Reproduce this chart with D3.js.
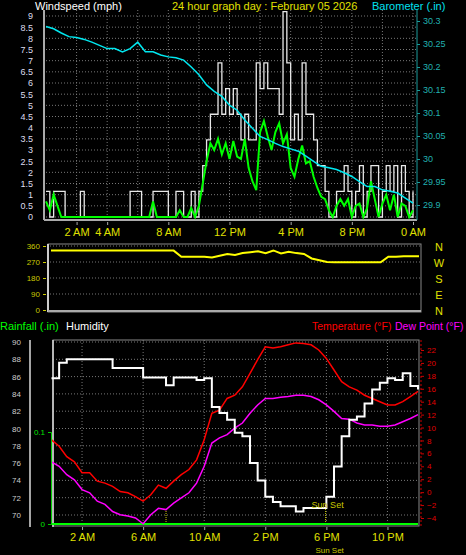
<!DOCTYPE html>
<html><head><meta charset="utf-8">
<script src="https://cdn.jsdelivr.net/npm/d3@7"></script>
<style>body{margin:0;background:#000}svg{display:block;font-family:"Liberation Sans",Arial,sans-serif}</style>
</head><body><svg width="466" height="555"></svg>
<script>
// 15 minute wind samples (mph)
var windGust = [1.15,0,1.15,1.15,1.15,0,0,0,0,1.15,0,0,0,0,0,0,0,0,0,0,0,0,1.15,1.15,1.15,0,0,0,1.15,1.15,1.15,1.15,0,0,1.15,1.15,0,0,1.15,0,1.15,2.3,3.45,4.6,4.6,6.9,4.6,5.75,4.6,5.75,4.6,3.45,4.6,3.45,3.45,6.9,5.75,6.9,5.75,5.75,5.75,4.6,9.2,6.9,3.45,4.6,3.45,6.9,4.6,4.6,3.45,2.3,2.3,1.15,0,0,1.15,1.15,2.3,1.15,0,1.15,2.3,0,1.15,2.3,2.3,0,1.15,2.3,1.15,2.3,0,2.3,1.15,0,1.15];
var windAvg = [0.7,0.3,1.0,0.5,0,0,0,0,0,0,0,0,0,0,0,0,0,0,0,0,0,0,0,0,0,0,0,0,0.7,0,0,0,0,0,0,0.3,0,0,0.4,0,0.5,1.5,2.5,3.3,3.0,3.5,2.8,3.3,2.6,3.4,2.7,2.6,3.5,2.2,1.6,1.2,3.8,4.3,3.6,3.0,3.8,4.2,3.3,3.7,2.2,1.8,2.6,3.2,2.4,2.5,1.8,1.3,0.9,0.8,0.3,0,0.5,0.8,0.5,0.8,0,0.5,0.6,0,0.4,1.6,0.8,0,0.6,1.0,0.3,1.0,0,0.6,0.5,0,0.3];
// 30 minute samples
var barometer = [30.288,30.283,30.274,30.266,30.264,30.26,30.254,30.247,30.24,30.24,30.233,30.24,30.254,30.233,30.233,30.226,30.222,30.22,30.215,30.2,30.183,30.161,30.147,30.136,30.117,30.106,30.085,30.067,30.049,30.042,30.034,30.027,30.022,30.017,30.006,29.995,29.984,29.981,29.977,29.970,29.962,29.951,29.94,29.94,29.933,29.93,29.926,29.915,29.904];
var windDir = [334,334,334,334,334,334,334,334,334,334,334,334,334,334,334,334,334,300,300,300,300,295,305,315,310,320,325,330,320,335,318,328,320,315,290,280,270,268,268,268,268,268,268,268,300,300,302,303,303];
var humidity = [85.8,87.6,88,88,88,88,88,88,87,87,87,87,85.9,85.9,85.9,85,85.9,85.9,85.9,85.6,85.8,82.5,81.8,81,79.5,79.1,76,74,72.1,71.5,71,71,70.4,70.8,70.8,70.8,72.1,75.6,79.1,81,81.4,82.9,84.5,85.3,85.8,85.6,86.4,84.9,84.5];
var temperature = [8.1,7.1,5.5,4.7,3.0,3.0,1.7,1.4,0.9,0.1,-0.1,-0.7,-1.4,-0.4,1.1,0.6,1.7,2.7,3.5,5,8.1,12.2,12.7,14.5,15,16.3,18.4,20.5,22.5,22.3,22.5,22.8,23.1,23,22.8,22,20.7,18.9,17.1,16.3,15.8,15,14.5,14,13.5,13.5,14,14.8,15.6];
var dewPoint = [4.7,4,2.7,1.9,0.4,-0.1,-1.4,-1.9,-3,-3.5,-3.7,-4,-4.9,-3.5,-2.5,-2.7,-1.7,-0.9,-0.1,1.4,4,7.6,8.4,8.9,9.9,10.7,12.2,13.5,14.5,14.5,14.7,14.8,15,15,14.8,14.3,13.5,12.5,11.4,11.3,10.7,10.4,10.4,10.2,10.2,10.4,10.9,11.4,12];
var rainfall = [0,0,0,0,0,0,0,0,0,0,0,0,0,0,0,0,0,0,0,0,0,0,0,0,0,0,0,0,0,0,0,0,0,0,0,0,0,0,0,0,0,0,0,0,0,0,0,0,0];
var topHours = [2,4,8,12,16,20,24], topHourLabels = ["2 AM","4 AM","8 AM","12 PM","4 PM","8 PM","0 AM"];
var botHours = [2,6,10,14,18,22], botHourLabels = ["2 AM","6 AM","10 AM","2 PM","6 PM","10 PM"];
var compass = ["N","W","S","E","N"];
var sunRise = 7.5, sunSet = 17.95;

var svg = d3.select("svg");
function hrs(arr){ return arr.map(function(v,i){ return [i*24/(arr.length-1), v]; }); }
function grid(g, x, y, xt, yt, x0, x1, y0, y1){
  g.selectAll(".h").data(yt).enter().append("line").attr("x1",x0).attr("x2",x1)
   .attr("y1",function(d){return y(d);}).attr("y2",function(d){return y(d);})
   .attr("stroke","#777").attr("stroke-dasharray","1,2");
  g.selectAll(".v").data(xt).enter().append("line").attr("y1",y0).attr("y2",y1)
   .attr("x1",function(d){return x(d);}).attr("x2",function(d){return x(d);})
   .attr("stroke","#777").attr("stroke-dasharray","1,2");
}
function txt(x,y,s,c,size,anchor){
  return svg.append("text").attr("x",x).attr("y",y).text(s).attr("fill",c)
    .attr("font-size",size||11).attr("text-anchor",anchor||"start");
}

// ---- top panel: wind + barometer
var x1 = d3.scaleLinear().domain([0,24]).range([46,413]);
var yw = d3.scaleLinear().domain([0,9]).range([217,16]);
var yb = d3.scaleLinear().domain([29.9,30.3]).range([205,21]);
var topG = svg.append("g");
grid(topG, x1, yw, d3.range(2,25,2), d3.range(0,9.1,0.5), 46, 416, 10, 218);
topG.append("line").attr("x1",44).attr("x2",44).attr("y1",10).attr("y2",220).attr("stroke","#aaa").attr("stroke-width",2);
topG.append("line").attr("x1",44).attr("x2",417).attr("y1",220).attr("y2",220).attr("stroke","#aaa").attr("stroke-width",2);
topG.append("line").attr("x1",417).attr("x2",417).attr("y1",10).attr("y2",220).attr("stroke","#1a9a9a");
var gustLine = d3.line().x(function(d){return x1(d[0]);}).y(function(d){return yw(d[1]);}).curve(d3.curveStepAfter);
topG.append("path").datum(hrs(windGust)).attr("d",gustLine).attr("fill","none").attr("stroke","#e8e8e8").attr("stroke-width",1.3);
topG.append("path").datum(hrs(windAvg)).attr("d",d3.line().x(function(d){return x1(d[0]);}).y(function(d){return yw(d[1]);}))
  .attr("fill","none").attr("stroke","#00ff00").attr("stroke-width",2);
topG.append("path").datum(hrs(barometer)).attr("d",d3.line().x(function(d){return x1(d[0]);}).y(function(d){return yb(d[1]);}))
  .attr("fill","none").attr("stroke","#00e8f0").attr("stroke-width",1.5);
var la = topG.append("g").attr("transform","translate(36,0)").call(d3.axisLeft(yw).tickValues(d3.range(0,9.1,0.5)).tickFormat(d3.format("~g")).tickSize(0));
la.select(".domain").remove();
la.selectAll("text").attr("fill","#dde").attr("font-size",9).attr("font-family","Liberation Sans");
var ra = topG.append("g").attr("transform","translate(417,0)").call(d3.axisRight(yb).tickValues(d3.range(29.9,30.301,0.05)).tickFormat(d3.format("~g")).tickSize(3));
ra.select(".domain").remove();
ra.selectAll("line").attr("stroke","#1a9a9a");
ra.selectAll("text").attr("fill","#20b0b0").attr("font-size",9).attr("font-family","Liberation Sans");
var xa = topG.append("g").attr("transform","translate(0,222)").call(d3.axisBottom(x1).tickValues(topHours).tickFormat(function(d,i){return topHourLabels[i];}).tickSize(3));
xa.select(".domain").remove();
xa.selectAll("line").attr("stroke","#aaa");
xa.selectAll("text").attr("fill","#e0e000").attr("font-size",11).attr("font-family","Liberation Sans");
txt(35,10,"Windspeed (mph)","#fff",11);
txt(172,10,"24 hour graph day : February 05 2026","#e0e000",11);
txt(372,10,"Barometer (.in)","#00e0f0",11);

// ---- middle panel: wind direction
var x2 = d3.scaleLinear().domain([0,24]).range([51,419]);
var yd = d3.scaleLinear().domain([0,360]).range([310,246]);
var midG = svg.append("g");
grid(midG, x2, yd, [], [90,180,270,360], 50, 420, 0, 0);
midG.append("rect").attr("x",48).attr("y",244).attr("width",373).attr("height",68).attr("fill","none").attr("stroke","#888");
midG.append("line").attr("x1",48).attr("x2",48).attr("y1",244).attr("y2",312).attr("stroke","#ccc").attr("stroke-width",2);
midG.append("line").attr("x1",48).attr("x2",421).attr("y1",311).attr("y2",311).attr("stroke","#aaa").attr("stroke-width",2);
midG.append("path").datum(hrs(windDir)).attr("d",d3.line().x(function(d){return x2(d[0]);}).y(function(d){return yd(d[1]);}))
  .attr("fill","none").attr("stroke","#ffff00").attr("stroke-width",2);
var da = midG.append("g").attr("transform","translate(46,0)").call(d3.axisLeft(yd).tickValues([0,90,180,270,360]).tickSize(3));
da.select(".domain").remove();
da.selectAll("line").attr("stroke","#cc0");
da.selectAll("text").attr("fill","#c8c800").attr("font-size",8).attr("font-family","Liberation Sans");
midG.selectAll(".cmp").data(compass).enter().append("text").attr("x",439).attr("text-anchor","middle")
  .attr("y",function(d,i){return yd(360-i*90)+5;}).text(function(d){return d;}).attr("fill","#e0e000").attr("font-size",11);

// ---- bottom panel: humidity, temperature, dew point, rainfall
var x3 = d3.scaleLinear().domain([0,24]).range([51.5,418]);
var yh = d3.scaleLinear().domain([70,90]).range([515,342]);
var yt = d3.scaleLinear().domain([-4,22]).range([518,350]);
var yr = d3.scaleLinear().domain([0,0.1]).range([524,432]);
var botG = svg.append("g");
grid(botG, x3, yh, botHours, d3.range(70,90.1,2), 53, 419, 340, 526);
botG.append("rect").attr("x",53).attr("y",340).attr("width",366).attr("height",186).attr("fill","none").attr("stroke","#888");
botG.append("line").attr("x1",53).attr("x2",53).attr("y1",340).attr("y2",527).attr("stroke","#ddd").attr("stroke-width",1.5);
botG.append("line").attr("x1",30).attr("x2",30).attr("y1",340).attr("y2",527).attr("stroke","#ddd").attr("stroke-width",1.5);
botG.append("line").attr("x1",421).attr("x2",421).attr("y1",340).attr("y2",527).attr("stroke","#c00").attr("stroke-dasharray","2,2");
[sunRise, sunSet].forEach(function(h,i){
  botG.append("line").attr("x1",x3(h)).attr("x2",x3(h)).attr("y1",524).attr("y2",i?505:510)
    .attr("stroke","#cc0").attr("stroke-dasharray","1,1");
});
function ln(sc){ return d3.line().x(function(d){return x3(d[0]);}).y(function(d){return sc(d[1]);}); }
botG.append("path").datum(hrs(rainfall)).attr("d",ln(yr)).attr("fill","none").attr("stroke","#00ff00").attr("stroke-width",2);
botG.append("path").datum(hrs(dewPoint)).attr("d",ln(yt)).attr("fill","none").attr("stroke","#ff00ff").attr("stroke-width",1.5);
botG.append("path").datum(hrs(temperature)).attr("d",ln(yt)).attr("fill","none").attr("stroke","#ff0000").attr("stroke-width",1.5);
botG.append("path").datum(hrs(humidity)).attr("d",ln(yh).curve(d3.curveStepAfter)).attr("fill","none").attr("stroke","#fff").attr("stroke-width",2);
var ha = botG.append("g").attr("transform","translate(24,0)").call(d3.axisLeft(yh).tickValues(d3.range(70,90.1,2)).tickSize(0));
ha.select(".domain").remove();
ha.selectAll("text").attr("fill","#ccc").attr("font-size",8).attr("font-family","Liberation Sans");
var rca = botG.append("g").attr("transform","translate(51,0)").call(d3.axisLeft(yr).tickValues([0,0.1]).tickFormat(d3.format("~g")).tickSize(3));
rca.select(".domain").attr("stroke","#0c0");
rca.selectAll("line").attr("stroke","#0c0");
rca.selectAll("text").attr("fill","#00e000").attr("font-size",8).attr("font-family","Liberation Sans");
var ta = botG.append("g").attr("transform","translate(421,0)").call(d3.axisRight(yt).tickValues(d3.range(-4,22.1,2)).tickSize(3));
ta.select(".domain").remove();
ta.selectAll("line").attr("stroke","#c00");
ta.selectAll("text").attr("fill","#e00000").attr("font-size",8).attr("font-family","Liberation Sans");
var xb = botG.append("g").attr("transform","translate(0,527)").call(d3.axisBottom(x3).tickValues(botHours).tickFormat(function(d,i){return botHourLabels[i];}).tickSize(3));
xb.select(".domain").remove();
xb.selectAll("line").attr("stroke","#aaa");
xb.selectAll("text").attr("fill","#e0e000").attr("font-size",11).attr("font-family","Liberation Sans");
txt(x3(sunSet)-14,508,"Sun Set","#c8c800",9);
txt(x3(sunSet)+4,553,"Sun Set","#c8c800",8,"middle");
txt(0,330,"Rainfall (.in)","#00ff00",11);
txt(66,330,"Humidity","#fff",11);
txt(312,330,"Temperature (°F)","#ff0000",10.5);
txt(395,330,"Dew Point (°F)","#ff00ff",10.5);
</script></body></html>
